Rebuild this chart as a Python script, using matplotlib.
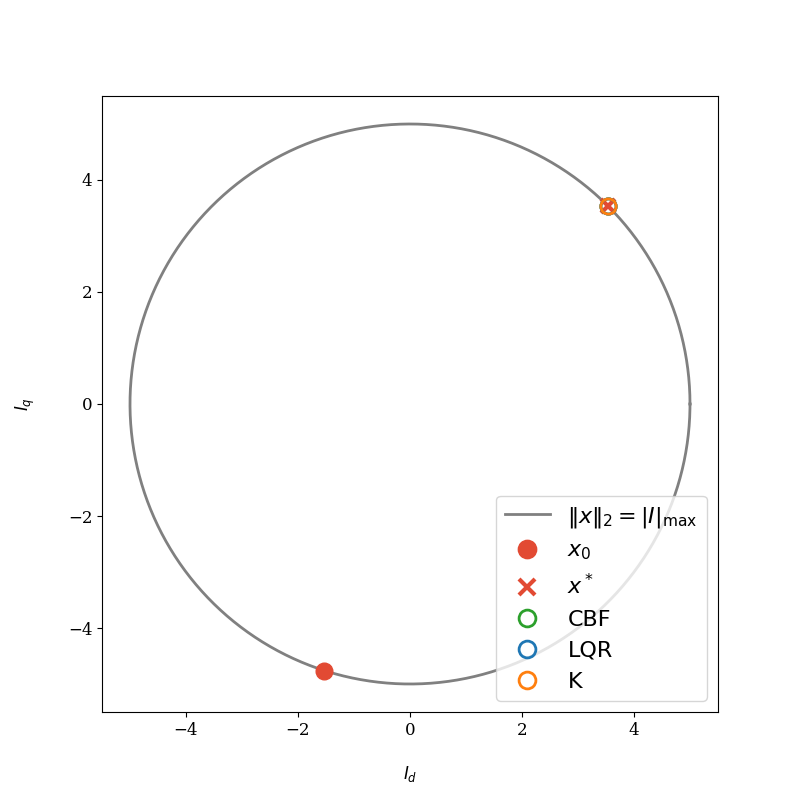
import numpy as np
import matplotlib
matplotlib.use('Agg')
import matplotlib.pyplot as plt

plt.rcParams['mathtext.fontset'] = 'dejavusans'

# data
i_max = 5.0
x0 = (-1.53, -4.76)
x_star = (3.54, 3.54)
ctrl_names = ['CBF', 'LQR', 'K']
ctrl_colors = ['tab:green', 'tab:blue', 'tab:orange']
ctrl_end = [(3.54, 3.54), (3.54, 3.54), (3.54, 3.54)]

theta = np.linspace(0, 2 * np.pi, 400)

fig, ax = plt.subplots(figsize=(8, 8), dpi=100)
ax.plot(i_max * np.cos(theta), i_max * np.sin(theta), color='gray', lw=2,
        label=r'$\|x\|_2 = |I|_{\max}$')
ax.plot(*x0, 'o', color='#E24A33', ms=12, ls='none', label=r'$x_0$')
ax.plot(*x_star, 'x', color='#E24A33', ms=10, mew=3, ls='none', label=r'$x^*$')
for name, c, p in zip(ctrl_names, ctrl_colors, ctrl_end):
    ax.plot(*p, 'o', mfc='none', mec=c, ms=11, mew=2, ls='none', label=name)

ax.set_aspect('equal')
ax.set_xlabel(r'$I_d$', fontsize=12, labelpad=18)
ax.set_ylabel(r'$I_q$', fontsize=12, labelpad=22)
for lab in ax.get_xticklabels() + ax.get_yticklabels():
    lab.set_family('DejaVu Serif')
    lab.set_fontsize(12)
ax.legend(loc='lower right', fontsize=16, markerscale=1.1)

plt.savefig('out.png')
